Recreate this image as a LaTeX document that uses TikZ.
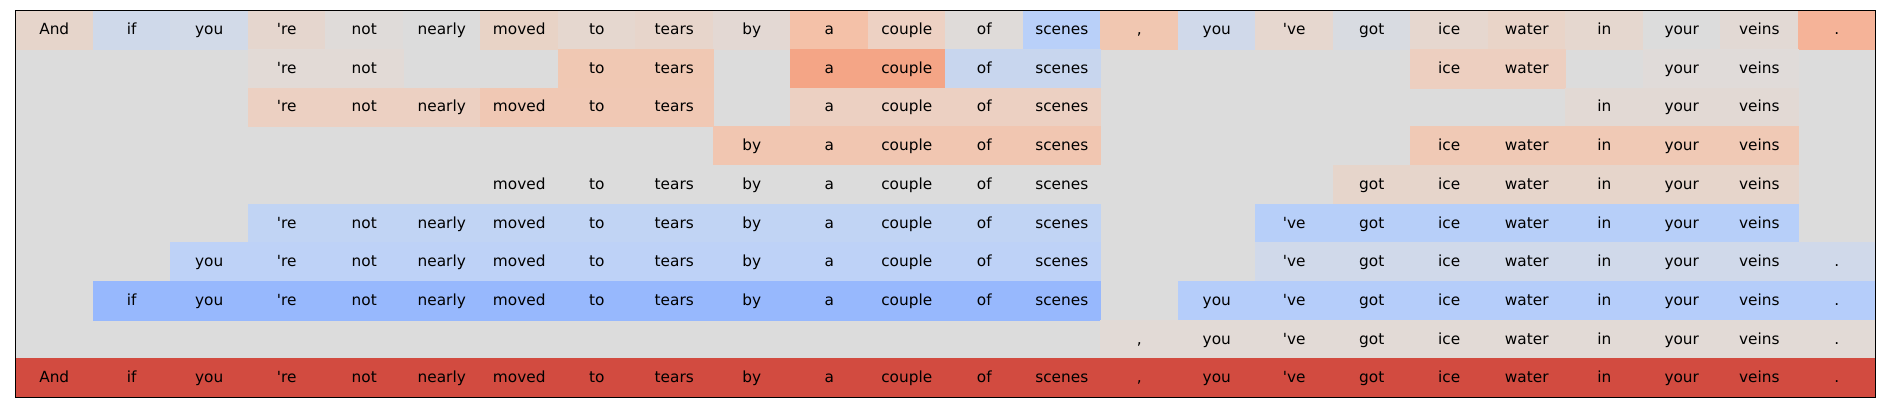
\documentclass[tikz,border=0pt]{standalone}
\usepackage{fontspec}
\setmainfont{DejaVu Sans}[Ligatures=TeXOff]
\definecolor{bggray}{HTML}{DCDCDC}
\tikzset{
  cell/.style={rectangle, inner sep=0pt, outer sep=0pt, line width=0.3pt,
    minimum width=58.125pt, minimum height=29.025pt,
    text height=7.5pt, text depth=0.15pt, text=black,
    font=\fontsize{11.5pt}{13pt}\selectfont},
  frame/.style={draw=black, line width=0.9pt}
}
\newcommand\cellat[3]{%
  \definecolor{cellcol}{HTML}{#3}%
  \node[cell, fill=cellcol, draw=cellcol] (c-#1-#2) at ({15.5+77.5*(#2+0.5)},{10.3+38.7*(#1+0.5)}) {\csname w#2\endcsname};}
\newcommand\segm[4]{\foreach \k in {#2,...,#3}{\cellat{#1}{\k}{#4}}}
\begin{document}
\begin{tikzpicture}[x=0.75pt,y=-0.75pt]
\useasboundingbox (0,0) rectangle (1884,412);
\foreach \w [count=\i from 0] in {And,if,you,'re,not,nearly,moved,to,tears,by,a,couple,of,scenes,{,},you,'ve,got,ice,water,in,your,veins,.}
  {\expandafter\xdef\csname w\i\endcsname{\w}}
\fill[white] (0,0) rectangle (1884,412);
\fill[bggray] (15.5,10.3) rectangle (1875.5,397.3);
% row 0
\cellat{0}{0}{E6D5CB}
\cellat{0}{1}{CFD9EA}
\cellat{0}{2}{D2DAE8}
\cellat{0}{3}{E5D6CE}
\cellat{0}{4}{DFDBD9}
\cellat{0}{5}{DCDCDC}
\cellat{0}{6}{E8D3C6}
\cellat{0}{7}{E5D7CF}
\cellat{0}{8}{E7D5CB}
\cellat{0}{9}{E3D8D3}
\cellat{0}{10}{F4C1A8}
\cellat{0}{11}{EDD1C3}
\cellat{0}{12}{DFDBD9}
\cellat{0}{13}{B9D0F9}
\cellat{0}{14}{F1C7B1}
\cellat{0}{15}{D0D9EA}
\cellat{0}{16}{E6D7CF}
\cellat{0}{17}{D8DBE1}
\cellat{0}{18}{E6D7CF}
\cellat{0}{19}{E9D4C8}
\cellat{0}{20}{E5D7CF}
\cellat{0}{21}{DCDCDC}
\cellat{0}{22}{E2D9D4}
\cellat{0}{23}{F5B398}
% row 1
\segm{1}{3}{4}{E2DAD6}
\segm{1}{7}{8}{F0C8B3}
\segm{1}{10}{11}{F4A586}
\segm{1}{12}{13}{C8D6EE}
\segm{1}{18}{19}{EDCFC0}
\segm{1}{21}{22}{E0DBD9}
% row 2
\segm{2}{3}{5}{ECD0C2}
\segm{2}{6}{8}{F0C8B4}
\segm{2}{10}{13}{ECD0C2}
\segm{2}{20}{22}{E2D9D4}
% row 3
\segm{3}{9}{13}{F1C6B1}
\segm{3}{18}{22}{F0C9B5}
% row 4
\segm{4}{6}{13}{DCDCDC}
\segm{4}{17}{22}{E6D5CB}
% row 5
\segm{5}{3}{13}{C1D4F4}
\segm{5}{16}{22}{B7CFF9}
% row 6
\segm{6}{2}{13}{BED2F7}
\segm{6}{16}{23}{D0D9EA}
% row 7
\segm{7}{1}{13}{97B8FD}
\segm{7}{15}{23}{B5CDFA}
% row 8
\segm{8}{14}{23}{E2DAD6}
% row 9
\segm{9}{0}{23}{D24B40}
\draw[frame] (15.5,10.3) rectangle (1875.5,397.3);
\end{tikzpicture}
\end{document}
